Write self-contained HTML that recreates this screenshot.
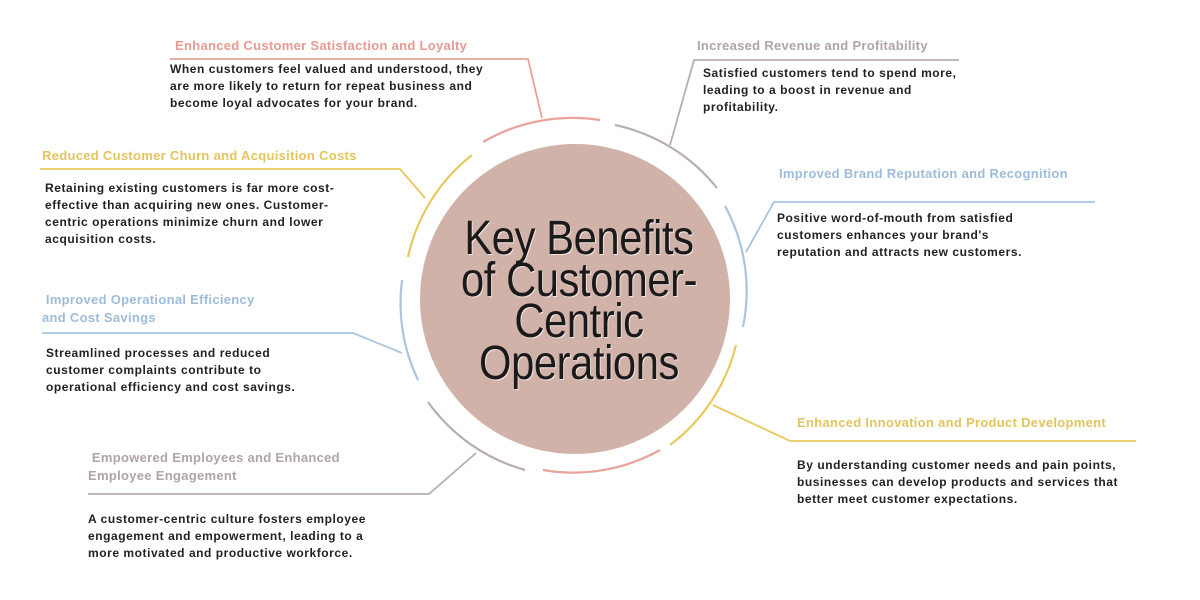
<!DOCTYPE html>
<html><head><meta charset="utf-8"><style>
body{margin:0;width:1200px;height:600px;background:#fff;position:relative;overflow:hidden;font-family:"Liberation Sans",sans-serif}
.t{position:absolute;font-weight:bold;font-size:13px;white-space:nowrap;letter-spacing:0.3px;line-height:18px}
.b{position:absolute;font-weight:bold;font-size:12px;white-space:nowrap;color:#222;letter-spacing:0.55px;line-height:17px}
.pk{color:#e59a93}.gy{color:#b0a4a4}.yl{color:#e3c45e}.bl{color:#9ebcd8}
.title{position:absolute;left:374px;top:218px;width:410px;text-align:center;font-family:"Liberation Sans",sans-serif;font-size:48px;line-height:41.5px;color:#1a1a1a;text-shadow:1px 1px 0 #f4e6e2;letter-spacing:-0.5px;transform:scaleX(0.87);transform-origin:205px 0}
</style></head><body>
<svg width="1200" height="600" style="position:absolute;left:0;top:0" fill="none" stroke-width="2.2">
<circle cx="575" cy="299" r="155" fill="#d1b2a9" stroke="none"/>
<path d="M483 142 A178 178 0 0 1 600 120" stroke="#e9a29c"/>
<path d="M615 125 A178 178 0 0 1 717 188" stroke="#b9aeab"/>
<path d="M725 206 A178 178 0 0 1 743 327" stroke="#aac5dd"/>
<path d="M736 345 A178 178 0 0 1 670 445" stroke="#e6c95f"/>
<path d="M660 450 A178 178 0 0 1 543 470" stroke="#e9a29c"/>
<path d="M525 470 A178 178 0 0 1 428 402" stroke="#b9aeab"/>
<path d="M418 380 A178 178 0 0 1 402 280" stroke="#aac5dd"/>
<path d="M408 257 A178 178 0 0 1 472 155" stroke="#e6c95f"/>
<polyline points="170,59 528,59 542,118" stroke="#e9a29c" stroke-width="1.8"/>
<polyline points="959,60 694,60 670,145" stroke="#b9aeab" stroke-width="1.8"/>
<polyline points="40,169 400,169 425,198" stroke="#e6c95f" stroke-width="1.8"/>
<polyline points="1095,202 774,202 746,252" stroke="#aac5dd" stroke-width="1.8"/>
<polyline points="42,333 353,333 402,353" stroke="#aac5dd" stroke-width="1.8"/>
<polyline points="1136,441 790,441 713,405" stroke="#e6c95f" stroke-width="1.8"/>
<polyline points="88,494 429,494 476,453" stroke="#b9aeab" stroke-width="1.8"/>
</svg>
<div class="title">Key Benefits<br>of Customer-<br>Centric<br>Operations</div>

<div class="t pk" style="left:175px;top:37px">Enhanced Customer Satisfaction and Loyalty</div>
<div class="b" style="left:170px;top:61px">When customers feel valued and understood, they<br>are more likely to return for repeat business and<br>become loyal advocates for your brand.</div>

<div class="t gy" style="left:697px;top:37px">Increased Revenue and Profitability</div>
<div class="b" style="left:703px;top:65px">Satisfied customers tend to spend more,<br>leading to a boost in revenue and<br>profitability.</div>

<div class="t yl" style="left:42px;top:147px">Reduced Customer Churn and Acquisition Costs</div>
<div class="b" style="left:45px;top:180px">Retaining existing customers is far more cost-<br>effective than acquiring new ones. Customer-<br>centric operations minimize churn and lower<br>acquisition costs.</div>

<div class="t bl" style="left:779px;top:165px">Improved Brand Reputation and Recognition</div>
<div class="b" style="left:777px;top:210px">Positive word-of-mouth from satisfied<br>customers enhances your brand's<br>reputation and attracts new customers.</div>

<div class="t bl" style="left:42px;top:291px">&nbsp;Improved Operational Efficiency<br>and Cost Savings</div>
<div class="b" style="left:46px;top:345px">Streamlined processes and reduced<br>customer complaints contribute to<br>operational efficiency and cost savings.</div>

<div class="t yl" style="left:797px;top:414px">Enhanced Innovation and Product Development</div>
<div class="b" style="left:797px;top:457px">By understanding customer needs and pain points,<br>businesses can develop products and services that<br>better meet customer expectations.</div>

<div class="t gy" style="left:88px;top:449px">&nbsp;Empowered Employees and Enhanced<br>Employee Engagement</div>
<div class="b" style="left:88px;top:511px">A customer-centric culture fosters employee<br>engagement and empowerment, leading to a<br>more motivated and productive workforce.</div>
</body></html>
